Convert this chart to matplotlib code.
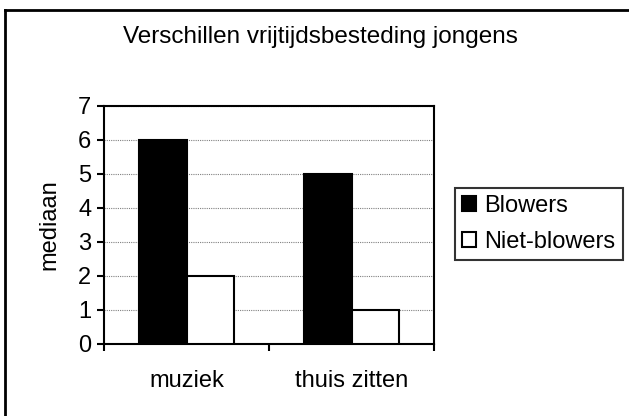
import numpy as np
import matplotlib
matplotlib.use("Agg")
import matplotlib.pyplot as plt
from matplotlib.lines import Line2D

plt.rcParams['font.family'] = ['Liberation Sans', 'DejaVu Sans']

categories = ['muziek', 'thuis zitten']
blowers = [6, 5]
niet_blowers = [2, 1]
series_names = ['Blowers', 'Niet-blowers']
y_ticks = [0, 1, 2, 3, 4, 5, 6, 7]

fs = 17

fig = plt.figure(figsize=(6.29, 4.16), dpi=100)
ax = fig.add_axes([104/629, 1-344/416, 330/629, 238/416])

x = np.arange(len(categories))
w = 0.29
ax.bar(x - w/2, blowers, w, color='black', edgecolor='black', linewidth=1.5,
       label=series_names[0], zorder=3)
ax.bar(x + w/2, niet_blowers, w, color='white', edgecolor='black', linewidth=1.5,
       label=series_names[1], zorder=3)

ax.set_xlim(-0.5, 1.5)
ax.set_ylim(0, 7)
ax.set_yticks(y_ticks)
ax.yaxis.grid(True, color='#808080', linestyle=(0, (1, 1)), linewidth=0.8, zorder=0)
ax.set_axisbelow(True)

ax.set_xticks(x)
ax.set_xticklabels(categories, fontsize=fs)
ax.set_xticks([-0.5, 0.5, 1.5], minor=True)
ax.tick_params(axis='x', which='major', length=0, pad=19)
ax.tick_params(axis='x', which='minor', length=5, width=1.5, direction='out')
ax.tick_params(axis='y', length=5, width=1.5, direction='out', labelsize=fs, pad=4)

for s in ax.spines.values():
    s.set_linewidth(1.5)
    s.set_color('black')

ax.set_ylabel('mediaan', fontsize=fs, labelpad=13)
fig.text(320/629, 1-37/416, 'Verschillen vrijtijdsbesteding jongens',
         ha='center', va='center', fontsize=17.5)

leg = ax.legend(loc='center left', bbox_to_anchor=(455/629, 1-224/416),
                bbox_transform=fig.transFigure, fontsize=fs, frameon=True,
                fancybox=False, handlelength=0.6, handleheight=0.6,
                handletextpad=0.35, borderpad=0.3, labelspacing=0.6,
                borderaxespad=0)
leg.get_frame().set_edgecolor('black')
leg.get_frame().set_linewidth(1.5)

# outer chart border, only left and top visible
fig.add_artist(Line2D([5/629, 5/629], [0, 1-10/416], transform=fig.transFigure,
                      color='black', linewidth=2))
fig.add_artist(Line2D([5/629, 1], [1-10/416, 1-10/416], transform=fig.transFigure,
                      color='black', linewidth=2))

fig.savefig('out.png', dpi=100)
